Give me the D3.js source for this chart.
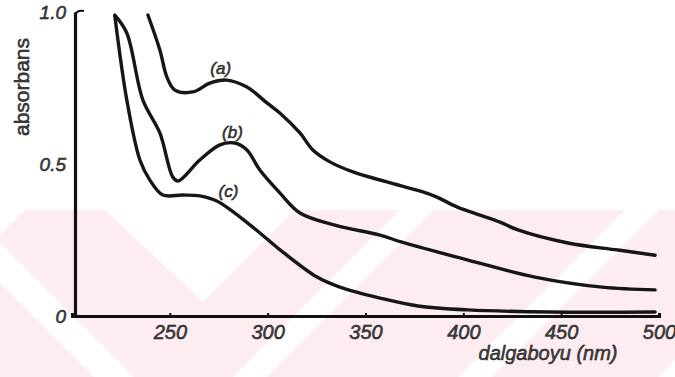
<!DOCTYPE html>
<html>
<head>
<meta charset="utf-8">
<script src="https://cdn.jsdelivr.net/npm/d3@7"></script>
<style>
  html, body { margin: 0; padding: 0; background: #fff; }
  svg { display: block; }
  .lbl { font-family: "Liberation Sans", Arial, sans-serif; fill: #444; stroke: #111; stroke-width: 0.5px; }
</style>
</head>
<body>
<svg id="chart"></svg>
<script>
// wavelength (nm) / absorbance
const waveA = [238.8, 244.9, 248.5, 252.6, 261.8, 270.4, 279.1, 289.4, 299.6, 306.2, 316.5, 323.1, 331.8, 343.6, 360.9, 379.3, 386.5, 396.7, 408.5, 418.7, 427.9, 453.5, 479.0, 498.0];
const absA  = [0.990, 0.875, 0.786, 0.743, 0.737, 0.766, 0.776, 0.753, 0.701, 0.668, 0.602, 0.546, 0.507, 0.474, 0.441, 0.408, 0.391, 0.359, 0.332, 0.309, 0.283, 0.240, 0.217, 0.200];

const waveB = [221.9, 228.0, 236.2, 244.9, 251.5, 254.1, 265.3, 275.6, 283.2, 289.4, 296.0, 306.2, 316.5, 334.4, 357.4, 368.6, 402.4, 436.6, 470.9, 498.0];
const absB  = [0.990, 0.931, 0.711, 0.602, 0.457, 0.444, 0.513, 0.563, 0.569, 0.546, 0.480, 0.405, 0.339, 0.299, 0.266, 0.243, 0.184, 0.128, 0.095, 0.086];

const waveC = [221.9, 228.0, 234.7, 239.8, 246.4, 256.6, 265.3, 274.0, 290.9, 307.8, 325.2, 336.9, 357.4, 376.8, 402.4, 444.3, 498.0];
const absC  = [0.987, 0.711, 0.513, 0.447, 0.398, 0.398, 0.395, 0.378, 0.300, 0.210, 0.128, 0.095, 0.059, 0.033, 0.020, 0.013, 0.013];

const seriesNames = ['(a)', '(b)', '(c)'];
// where each curve label sits (wavelength, absorbance)
const labelWave = [276, 282, 280];
const labelAbs  = [0.815, 0.605, 0.410];

const xTicks = [250, 300, 350, 400, 450, 500];
const yTicks = [0, 0.5, 1.0];
const yTickLabels = ['0', '0.5', '1.0'];

const xTitle = 'dalgaboyu (nm)';
const yTitle = 'absorbans';

const width = 675, height = 377;

const svg = d3.select('#chart')
  .attr('width', width)
  .attr('height', height);

// faint pink watermark band from the scan
const wm = svg.append('g');
wm.append('rect')
  .attr('x', 0).attr('y', 210)
  .attr('width', width).attr('height', height - 210)
  .attr('fill', '#fdecf0');
const holes = [
  [[0, 210], [25, 210], [0, 235]],
  [[105, 210], [295, 210], [203, 302]],
  [[0, 243], [0, 283], [94, 377], [134, 377]],
  [[400, 210], [434, 210], [267, 377], [233, 377]],
  [[625, 210], [659, 210], [492, 377], [458, 377]],
  [[675, 360], [675, 395], [658, 377]]
];
wm.selectAll('polygon')
  .data(holes)
  .enter().append('polygon')
  .attr('points', d => d.map(p => p.join(',')).join(' '))
  .attr('fill', '#fff');

const x = d3.scaleLinear()
  .domain([200, 500])
  .range([72, 659]);

const y = d3.scaleLinear()
  .domain([0, 1])
  .range([316, 12]);

// x axis
const xAxis = svg.append('g')
  .attr('transform', `translate(0,${y(0)})`)
  .call(d3.axisBottom(x).tickValues(xTicks).tickSize(-3).tickPadding(9).tickFormat(d3.format('d')));
xAxis.select('.domain')
  .attr('stroke', '#111')
  .attr('stroke-width', 3);
xAxis.selectAll('.tick line')
  .attr('stroke', '#111')
  .attr('stroke-width', 2);
xAxis.selectAll('.tick text')
  .attr('class', 'lbl')
  .attr('font-size', 20)
  .attr('font-style', 'italic');

// y axis
const yAxis = svg.append('g')
  .attr('transform', `translate(${x(200) + 3},0)`)
  .call(d3.axisLeft(y).tickValues(yTicks).tickSize(0).tickPadding(9)
    .tickFormat((d, i) => yTickLabels[i]));
yAxis.select('.domain')
  .attr('stroke', '#111')
  .attr('stroke-width', 3.2);
yAxis.selectAll('.tick text')
  .attr('class', 'lbl')
  .attr('font-size', 19)
  .attr('font-style', 'italic');

// little hook at the top of the y axis
svg.append('path')
  .attr('d', `M${x(200) + 3},${y(1) + 4} Q${x(200) + 4},${y(1) - 2} ${x(200) + 12},${y(1) - 1}`)
  .attr('fill', 'none')
  .attr('stroke', '#111')
  .attr('stroke-width', 2);

// curves
const lineGen = d3.line()
  .x(d => x(d[0]))
  .y(d => y(d[1]))
  .curve(d3.curveCatmullRom.alpha(0.5));

const series = [
  d3.zip(waveA, absA),
  d3.zip(waveB, absB),
  d3.zip(waveC, absC)
];

svg.append('g')
  .selectAll('path')
  .data(series)
  .enter().append('path')
  .attr('d', lineGen)
  .attr('fill', 'none')
  .attr('stroke', '#161616')
  .attr('stroke-width', 3.4)
  .attr('stroke-linecap', 'round')
  .attr('stroke-linejoin', 'round');

// curve labels
svg.append('g')
  .selectAll('text')
  .data(seriesNames)
  .enter().append('text')
  .attr('class', 'lbl')
  .attr('x', (d, i) => x(labelWave[i]))
  .attr('y', (d, i) => y(labelAbs[i]))
  .attr('text-anchor', 'middle')
  .attr('dy', '0.35em')
  .attr('font-size', 17)
  .attr('font-style', 'italic')
  .text(d => d);

// axis titles
svg.append('text')
  .attr('class', 'lbl')
  .attr('x', 548)
  .attr('y', 360)
  .attr('text-anchor', 'middle')
  .attr('font-size', 20)
  .attr('font-style', 'italic')
  .text(xTitle);

svg.append('text')
  .attr('class', 'lbl')
  .attr('transform', 'translate(29,87) rotate(-90)')
  .attr('text-anchor', 'middle')
  .attr('font-size', 21)
  .text(yTitle);
</script>
</body>
</html>
